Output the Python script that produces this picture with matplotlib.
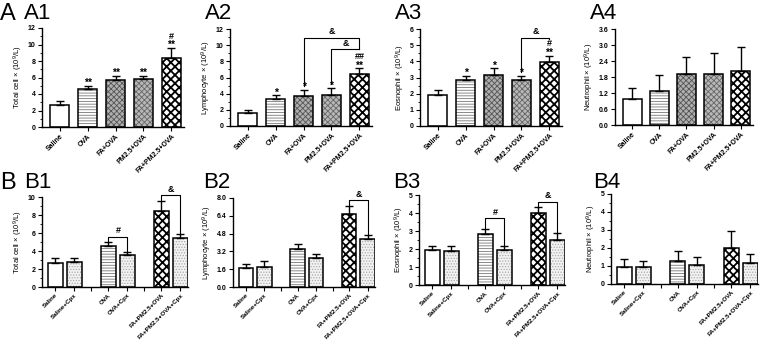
import numpy as np
import matplotlib
matplotlib.use("Agg")
import matplotlib.pyplot as plt
from matplotlib.ticker import MultipleLocator

plt.rcParams['font.family'] = ['Liberation Sans', 'DejaVu Sans']
plt.rcParams['mathtext.default'] = 'regular'
plt.rcParams['hatch.linewidth'] = 0.6

W, H = 760, 341

groups_a = ['Saline', 'OVA', 'FA+OVA', 'PM2.5+OVA', 'FA+PM2.5+OVA']
groups_b = ['Saline', 'Saline+Cpx', 'OVA', 'OVA+Cpx', 'FA+PM2.5+OVA', 'FA+PM2.5+OVA+Cpx']

# panel A values (mean, upper SEM)
total_a = [2.65, 4.63, 5.69, 5.81, 8.41]
total_a_err = [0.52, 0.33, 0.49, 0.41, 1.14]
lym_a = [1.65, 3.34, 3.71, 3.88, 6.43]
lym_a_err = [0.33, 0.45, 0.74, 0.78, 0.70]
eos_a = [1.94, 2.87, 3.18, 2.85, 3.98]
eos_a_err = [0.26, 0.24, 0.39, 0.26, 0.37]
neu_a = [0.96, 1.29, 1.92, 1.90, 2.02]
neu_a_err = [0.42, 0.58, 0.62, 0.79, 0.92]

# panel B values
total_b = [2.72, 2.80, 4.60, 3.60, 8.42, 5.48]
total_b_err = [0.48, 0.40, 0.44, 0.33, 1.18, 0.44]
lym_b = [1.72, 1.80, 3.38, 2.57, 6.55, 4.29]
lym_b_err = [0.33, 0.50, 0.49, 0.39, 0.75, 0.42]
eos_b = [1.93, 1.87, 2.85, 1.93, 3.98, 2.50]
eos_b_err = [0.22, 0.28, 0.24, 0.22, 0.33, 0.40]
neu_b = [0.97, 0.97, 1.28, 1.06, 2.00, 1.19]
neu_b_err = [0.40, 0.31, 0.58, 0.43, 0.94, 0.46]

# significance marks: stars (vs Saline) and hashes (vs OVA)
stars_a1 = ['', '**', '**', '**', '**']
hash_a1 = ['', '', '', '', '#']
stars_a2 = ['', '*', '*', '*', '**']
hash_a2 = ['', '', '', '', '##']
stars_a3 = ['', '*', '*', '*', '**']
hash_a3 = ['', '', '', '', '#']

# (bar i, bar j, bracket y, label, left end, right end)
brackets_a2 = [(2, 4, 10.9, '&', 5.0, 9.5), (3, 4, 9.5, '&', 5.2, 9.5)]
brackets_a3 = [(3, 4, 5.45, '&', 3.35, 5.4)]
brackets_b1 = [(2, 3, 5.6, '#', 5.1, 3.95), (4, 5, 10.2, '&', 9.65, 5.95)]
brackets_b2 = [(4, 5, 7.8, '&', 7.35, 4.75)]
brackets_b3 = [(2, 3, 3.7, '#', 3.12, 2.18), (4, 5, 4.63, '&', 4.35, 2.93)]

# bar styles: (face, hatch, hatch colour)
style_a = [('white', '', 'k'), ('white', '------', '#777777'),
           ('#b0b0b0', 'xxxxxx', '#555555'), ('#b8b8b8', 'xxxxxx', '#666666'),
           ('white', 'xxxx', 'black')]
style_b = [('white', '', 'k'), ('#f2f2f2', '......', '#aaaaaa'),
           ('white', '------', '#777777'), ('#f2f2f2', '......', '#aaaaaa'),
           ('white', 'xxxx', 'black'), ('#f2f2f2', '......', '#aaaaaa')]

pos_a = np.arange(5)
pos_b = np.array([0, 1, 2.8, 3.8, 5.6, 6.6])
sep_b = [1.9, 4.7]


def make_ax(fig, x0, y0, x1, y1):
    return fig.add_axes([x0 / W, (H - y1) / H, (x1 - x0) / W, (y1 - y0) / H])


def draw_bars(ax, pos, vals, errs, styles, labels, width):
    for p, v, e, (fc, ht, hc) in zip(pos, vals, errs, styles):
        b = ax.bar(p, v, width, color=fc, hatch=ht, edgecolor=hc, linewidth=0, zorder=2)
        if hc == 'black':
            try:
                b[0].set_hatch_linewidth(1.3)
            except AttributeError:
                pass
        ax.bar(p, v, width, fill=False, edgecolor='black', linewidth=1.1, zorder=3)
        ax.errorbar(p, v, yerr=[[0], [e]], color='black', capsize=3,
                    elinewidth=1.0, capthick=1.0, zorder=4)
    ax.set_xticks(pos)
    ax.set_xticklabels(labels, rotation=45, ha='right', rotation_mode='anchor',
                       fontsize=5, fontweight='bold')
    ax.spines['top'].set_visible(False)
    ax.spines['right'].set_visible(False)
    ax.spines['left'].set_linewidth(1.0)
    ax.spines['bottom'].set_linewidth(1.0)
    ax.tick_params(axis='both', labelsize=5, width=0.8, length=3, pad=1.5)
    ax.tick_params(axis='y', which='minor', width=0.6, length=1.5)
    for t in ax.get_yticklabels():
        t.set_fontweight('bold')


def draw_marks(ax, pos, vals, errs, stars, hashes):
    for p, v, e, s, h in zip(pos, vals, errs, stars, hashes):
        if s:
            ax.annotate(s, xy=(p, v + e), xytext=(0, -1.5), textcoords='offset points',
                        ha='center', va='bottom', fontsize=7.5, fontweight='bold',
                        annotation_clip=False)
        if h:
            ax.annotate(h, xy=(p, v + e), xytext=(0, 5.5), textcoords='offset points',
                        ha='center', va='bottom', fontsize=6.5, fontweight='bold',
                        annotation_clip=False)


def draw_brackets(ax, pos, brackets, off):
    for i, j, y, lab, yl, yr in brackets:
        ax.plot([pos[i], pos[i], pos[j], pos[j]], [yl, y, y, yr],
                color='black', linewidth=0.8, zorder=5, clip_on=False)
        ax.text((pos[i] + pos[j]) / 2, y + off, lab, ha='center', va='bottom',
                fontsize=6.5, fontweight='bold', clip_on=False)


def main():
    fig = plt.figure(figsize=(W / 100, H / 100), dpi=100)

    # ---- row A
    ax = make_ax(fig, 42, 28, 184, 127)
    draw_bars(ax, pos_a, total_a, total_a_err, style_a, groups_a, 0.7)
    draw_marks(ax, pos_a, total_a, total_a_err, stars_a1, hash_a1)
    ax.set_ylim(0, 12)
    ax.set_xlim(-0.63, 4.45)
    ax.yaxis.set_major_locator(MultipleLocator(2))
    ax.yaxis.set_minor_locator(MultipleLocator(1))
    ax.set_ylabel('Total cell × (10$^{9}$/L)', fontsize=5.5, labelpad=2)

    ax = make_ax(fig, 230, 29, 372, 126)
    draw_bars(ax, pos_a, lym_a, lym_a_err, style_a, groups_a, 0.7)
    draw_marks(ax, pos_a, lym_a, lym_a_err, stars_a2, hash_a2)
    draw_brackets(ax, pos_a, brackets_a2, 0.2)
    ax.set_ylim(0, 12)
    ax.set_xlim(-0.63, 4.45)
    ax.yaxis.set_major_locator(MultipleLocator(2))
    ax.yaxis.set_minor_locator(MultipleLocator(1))
    ax.set_ylabel('Lymphocyte × (10$^{9}$/L)', fontsize=5.5, labelpad=2)

    ax = make_ax(fig, 420, 29, 562, 126)
    draw_bars(ax, pos_a, eos_a, eos_a_err, style_a, groups_a, 0.7)
    draw_marks(ax, pos_a, eos_a, eos_a_err, stars_a3, hash_a3)
    draw_brackets(ax, pos_a, brackets_a3, 0.1)
    ax.set_ylim(0, 6)
    ax.set_xlim(-0.63, 4.45)
    ax.yaxis.set_major_locator(MultipleLocator(1))
    ax.yaxis.set_minor_locator(MultipleLocator(0.5))
    ax.set_ylabel('Eosnophil × (10$^{9}$/L)', fontsize=5.5, labelpad=2)

    ax = make_ax(fig, 615, 29, 753, 125)
    draw_bars(ax, pos_a, neu_a, neu_a_err, style_a, groups_a, 0.7)
    ax.set_ylim(0, 3.6)
    ax.set_xlim(-0.63, 4.45)
    ax.yaxis.set_major_locator(MultipleLocator(0.6))
    ax.yaxis.set_major_formatter('{x:.1f}')
    for t in ax.get_yticklabels():
        t.set_fontweight('bold')
    ax.set_ylabel('Neutrophil × (10$^{9}$/L)', fontsize=5.5, labelpad=2)

    # ---- row B
    b_panels = [
        ((42, 197, 188, 287), total_b, total_b_err, brackets_b1, 10, 2, 1, 0.15,
         'Total cell × (10$^{9}$/L)', '{x:.0f}'),
        ((233, 198, 375, 287), lym_b, lym_b_err, brackets_b2, 8, 1.6, None, 0.12,
         'Lymphocyte × (10$^{9}$/L)', '{x:.1f}'),
        ((419, 195, 565, 285), eos_b, eos_b_err, brackets_b3, 5, 1, 0.5, 0.08,
         'Eosnophil × (10$^{9}$/L)', '{x:.0f}'),
        ((611, 194, 758, 284), neu_b, neu_b_err, [], 5, 1, 0.5, 0.08,
         'Neutrophil × (10$^{9}$/L)', '{x:.0f}'),
    ]
    for box, vals, errs, brs, top, step, minor, off, ylab, fmt in b_panels:
        ax = make_ax(fig, *box)
        draw_bars(ax, pos_b, vals, errs, style_b, groups_b, 0.78)
        draw_brackets(ax, pos_b, brs, off)
        ax.set_xticks(list(pos_b) + sep_b)
        ax.set_xticklabels(groups_b + ['', ''], rotation=45, ha='right',
                           rotation_mode='anchor', fontsize=4.5, fontweight='bold')
        ax.tick_params(axis='x', pad=1)
        ax.set_ylim(0, top)
        ax.set_xlim(-0.7, 7.0)
        ax.yaxis.set_major_locator(MultipleLocator(step))
        if minor:
            ax.yaxis.set_minor_locator(MultipleLocator(minor))
        ax.yaxis.set_major_formatter(fmt)
        for t in ax.get_yticklabels():
            t.set_fontweight('bold')
        ax.set_ylabel(ylab, fontsize=5.5, labelpad=2)

    # panel letters
    fig.text(0 / W, 1 - 3 / H, 'A', fontsize=17, va='top', ha='left')
    fig.text(0 / W, 1 - 172 / H, 'B', fontsize=17, va='top', ha='left')
    for lab, x, y in [('A1', 24, 3), ('A2', 205, 3), ('A3', 395, 3), ('A4', 590, 3),
                      ('B1', 24, 172), ('B2', 203, 172), ('B3', 393, 172),
                      ('B4', 593, 172)]:
        fig.text(x / W, 1 - y / H, lab, fontsize=16, va='top', ha='left')

    fig.savefig('out.png', dpi=100)


if __name__ == "__main__":
    main()
